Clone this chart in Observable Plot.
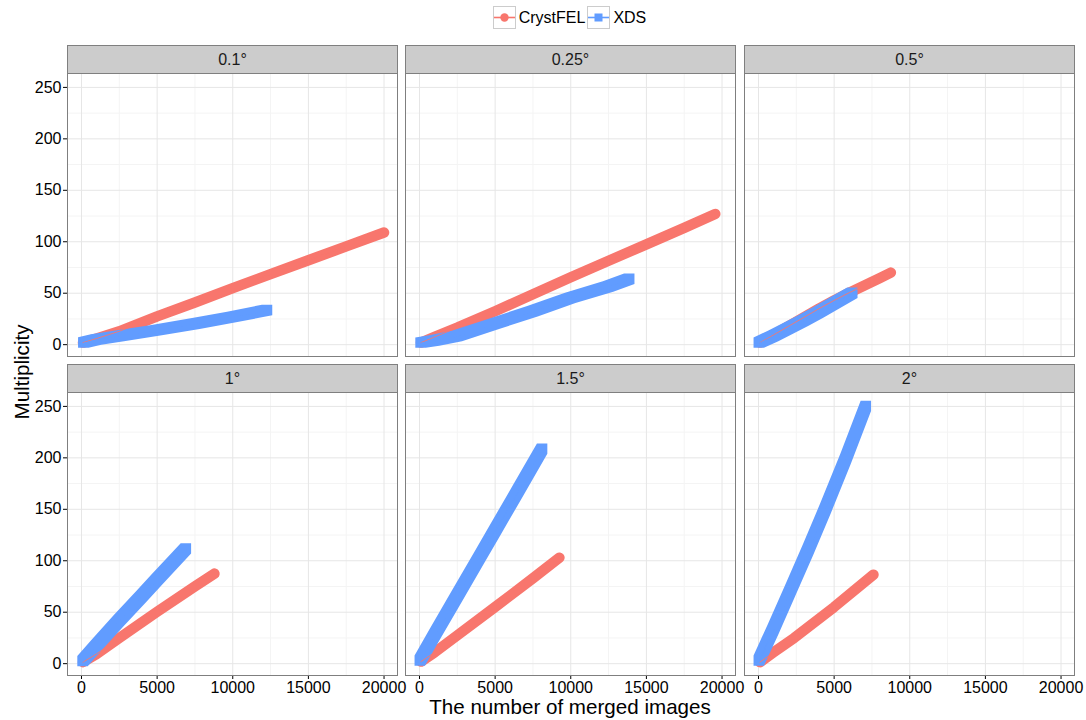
<!DOCTYPE html>
<html><head><meta charset="utf-8">
<script src="https://cdn.jsdelivr.net/npm/d3@7"></script>
<script src="https://cdn.jsdelivr.net/npm/@observablehq/plot@0.6"></script>
<style>
body{margin:0;background:#fff;font-family:"Liberation Sans",Arial,Helvetica,sans-serif;}
#root{position:relative;width:1086px;height:720px;overflow:hidden;background:#fff;}
.strip{position:absolute;box-sizing:border-box;background:#cccccc;border:1px solid #7f7f7f;font-size:16px;color:#1a1a1a;display:flex;align-items:center;justify-content:center;}
.panel{position:absolute;}
.panel svg{overflow:visible;max-width:none !important;}
#legend{position:absolute;top:6px;left:67px;width:1007px;display:flex;justify-content:center;align-items:center;font-size:16px;color:#000;}
#legend .item{display:flex;align-items:center;margin-right:2px;}
#legend svg{display:block;margin-right:3px;}
.title{position:absolute;font-size:20.6px;color:#000;white-space:nowrap;}
</style></head>
<body><div id="root">
<div id="legend"></div>
</div>
<script>
// ---- data ----
const panels = ["0.1°", "0.25°", "0.5°", "1°", "1.5°", "2°"];
const seriesNames = ["CrystFEL", "XDS"];
const seriesColors = ["#F8766D", "#619CFF"];
const xTicks = [0, 5000, 10000, 15000, 20000];
const xMinor = [2500, 7500, 12500, 17500];
const yTicks = [0, 50, 100, 150, 200, 250];
const yMinor = [25, 75, 125, 175, 225];

const cryst01 = [[100,2],[1000,6],[2500,13],[5000,27.5],[7500,41],[10000,55],[12500,68.5],[15000,82],[17500,95.5],[20000,109]];
const xds01 = [[150,1.6],[1000,4.5],[2500,8],[5000,13.6],[7500,19.8],[10000,26.5],[12300,33.2]];
const cryst025 = [[100,2],[1000,7.5],[2500,16.5],[5000,32.5],[7500,49],[10000,65.5],[12500,81.5],[15000,97.5],[17500,113.5],[19550,127]];
const xds025 = [[100,1.5],[1000,3.5],[2500,8],[5000,20],[7500,32],[10000,45],[12500,56],[13900,63.5]];
const cryst05 = [[100,2],[1000,9.5],[2000,18],[3000,26.5],[4000,35],[5000,43],[6000,50.5],[7000,57.5],[8000,64.5],[8750,70]];
const xds05 = [[50,1.5],[1000,8],[2000,15.5],[3000,23],[4000,31],[5000,39.5],[6235,50]];
const cryst1 = [[100,1.5],[1000,9.5],[2500,25],[5000,50.5],[7500,75],[8790,87.5]];
const xds1 = [[100,2],[1000,17],[2500,41.5],[4000,65],[5000,81],[6935,111.5]];
const cryst15 = [[100,2],[1000,11],[2500,27.5],[5000,55],[7500,83],[9250,103]];
const xds15 = [[50,2.5],[1000,27],[2500,65],[4000,103],[5000,128.5],[6500,166.5],[8140,208.5]];
const cryst2 = [[100,1.5],[1000,11],[2360,25],[5000,55],[7600,86.5]];
const xds2 = [[50,2.5],[1000,33],[2140,71],[3300,110],[4450,150],[5800,199],[7130,250]];

const crystSeries = [cryst01, cryst025, cryst05, cryst1, cryst15, cryst2];
const xdsSeries = [xds01, xds025, xds05, xds1, xds15, xds2];

// ---- layout ----
const colLeft = [67, 405, 744];
const rowTop = [73, 392];
const panelW = 330, panelH = 283, stripH = 28;
const ML = 45, MR = 20, MT = 1, MB = 30;
const root = document.getElementById("root");

// swept-square trail (ggplot square points densely overlapping)
function squareTrail(data, color, half) {
  return (index, scales) => {
    const X = scales.x, Y = scales.y;
    const pts = data.map(d => [X(d[0]), Y(d[1])]);
    const n = pts.length;
    const p = [];
    p.push([pts[0][0] - half, pts[0][1] + half]);
    for (const [x, y] of pts) p.push([x - half, y - half]);
    p.push([pts[n-1][0] + half, pts[n-1][1] - half]);
    for (let i = n - 1; i >= 0; i--) p.push([pts[i][0] + half, pts[i][1] + half]);
    const path = document.createElementNS("http://www.w3.org/2000/svg", "path");
    path.setAttribute("d", "M" + p.map(q => q[0].toFixed(2) + "," + q[1].toFixed(2)).join("L") + "Z");
    path.setAttribute("fill", color);
    return path;
  };
}

panels.forEach((name, i) => {
  const r = Math.floor(i / 3), c = i % 3;
  const showY = c === 0, showX = r === 1;
  const cryst = crystSeries[i], xds = xdsSeries[i];
  const acc = {x: d => d[0], y: d => d[1]};
  const W = ML + panelW + MR, H = MT + panelH + MB;
  const chart = Plot.plot({
    width: W,
    height: H,
    marginLeft: ML, marginRight: MR, marginTop: MT, marginBottom: MB,
    style: {fontFamily: '"Liberation Sans", Arial, Helvetica, sans-serif', fontSize: "16px", color: "#000", background: "transparent", overflow: "visible", maxWidth: "none"},
    x: {domain: [-925, 20890], ticks: xTicks, tickFormat: d3.format("d"), tickSize: 4, tickPadding: 2, label: null, axis: showX ? "bottom" : null},
    y: {domain: [-11.5, 263.5], ticks: yTicks, tickFormat: d3.format("d"), tickSize: 4, tickPadding: 2, label: null, axis: showY ? "left" : null},
    marks: [
      Plot.ruleX(xMinor, {stroke: "#F4F4F4", strokeWidth: 1}),
      Plot.ruleY(yMinor, {stroke: "#F4F4F4", strokeWidth: 1}),
      Plot.ruleX(xTicks, {stroke: "#E6E6E6", strokeWidth: 1}),
      Plot.ruleY(yTicks, {stroke: "#E6E6E6", strokeWidth: 1}),
      Plot.line(cryst, {...acc, stroke: seriesColors[0], strokeWidth: 10.5, strokeLinecap: "round", strokeLinejoin: "round"}),
      squareTrail(xds, seriesColors[1], 5.2),
      Plot.line(cryst, {...acc, stroke: seriesColors[0], strokeWidth: 0.9}),
      Plot.line(xds, {...acc, stroke: seriesColors[1], strokeWidth: 0.9}),
      Plot.frame({stroke: "#7f7f7f", strokeWidth: 1})
    ]
  });
  const holder = document.createElement("div");
  holder.className = "panel";
  holder.style.left = (colLeft[c] - ML) + "px";
  holder.style.top = (rowTop[r] - MT) + "px";
  holder.style.width = W + "px";
  holder.style.height = H + "px";
  holder.appendChild(chart);
  root.appendChild(holder);

  const strip = document.createElement("div");
  strip.className = "strip";
  strip.style.left = colLeft[c] + "px";
  strip.style.top = (rowTop[r] - stripH) + "px";
  strip.style.width = (panelW + 1) + "px";
  strip.style.height = (stripH + 1) + "px";
  strip.textContent = name;
  root.appendChild(strip);
});

// legend
const legend = document.getElementById("legend");
seriesNames.forEach((s, k) => {
  const item = document.createElement("div");
  item.className = "item";
  const sym = k === 0
    ? `<circle cx="11.5" cy="11.5" r="4.2" fill="${seriesColors[k]}"/>`
    : `<rect x="7.5" y="7.5" width="8" height="8" fill="${seriesColors[k]}"/>`;
  item.innerHTML = `<svg width="23" height="23"><rect x="0.5" y="0.5" width="22" height="22" fill="#fff" stroke="#cccccc"/><line x1="1" x2="22" y1="11.5" y2="11.5" stroke="${seriesColors[k]}" stroke-width="1.6"/>${sym}</svg><span>${s}</span>`;
  legend.appendChild(item);
});

// axis titles
const xt = document.createElement("div");
xt.className = "title";
xt.textContent = "The number of merged images";
xt.style.left = "570px"; xt.style.top = "695px";
xt.style.transform = "translateX(-50%)";
root.appendChild(xt);

const yt = document.createElement("div");
yt.className = "title";
yt.textContent = "Multiplicity";
yt.style.left = "22px"; yt.style.top = "372px";
yt.style.transform = "translate(-50%,-50%) rotate(-90deg)";
root.appendChild(yt);
</script>
</body></html>
